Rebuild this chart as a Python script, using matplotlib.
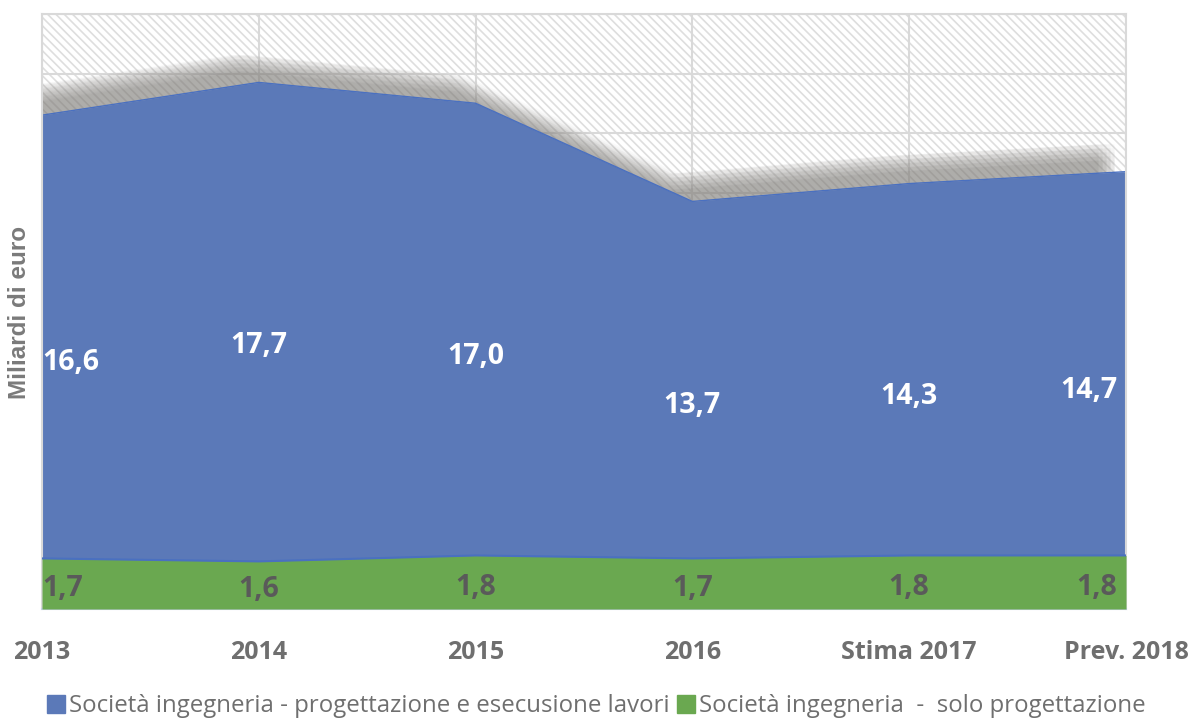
import numpy as np
import matplotlib
matplotlib.use("Agg")
import matplotlib.pyplot as plt
from matplotlib.patches import Rectangle
from matplotlib.lines import Line2D
from matplotlib.transforms import ScaledTranslation

years = ["2013", "2014", "2015", "2016", "Stima 2017", "Prev. 2018"]
progettazione_esecuzione = [16.6, 17.7, 17.0, 13.7, 14.3, 14.7]
solo_progettazione = [1.7, 1.6, 1.8, 1.7, 1.8, 1.8]
labels_series = ["Società ingegneria - progettazione e esecusione lavori",
                 "Società ingegneria  -  solo progettazione"]

blue = "#5b79b8"
green = "#6aa850"
grey_txt = "#6f6f6f"

fig = plt.figure(figsize=(11.91, 7.18), dpi=100)
ax = fig.add_axes([42/1191, 1-609/718, (1126-42)/1191, (609-14)/718])

x = np.arange(len(years))
ax.set_xlim(0, len(years) - 1)
ax.set_ylim(0, 20)

# hatched plot area background
plt.rcParams["hatch.linewidth"] = 1.2
bg = Rectangle((0, 0), 1, 1, transform=ax.transAxes, facecolor="white",
               edgecolor="#dedede", hatch="\\\\\\\\", lw=0, zorder=0.1)
ax.add_patch(bg)

ax.set_axisbelow(True)
ax.set_yticks(np.arange(0, 21, 2))
ax.set_xticks(x)
ax.grid(True, color="#d9d9d9", lw=1.5)
ax.tick_params(length=0, pad=22)
ax.set_yticklabels([])
ax.set_xticklabels(years, fontfamily="Open Sans", fontweight="bold",
                   fontsize=18, color=grey_txt)
for s in ax.spines.values():
    s.set_color("#d9d9d9")
    s.set_linewidth(1.5)
ax.spines["bottom"].set_color("#c5d0e8")

# soft shadow behind the blue area
for dx in range(-28, -11, 4):
    for dy in range(12, 29, 4):
        tr = ax.transData + ScaledTranslation(dx/100, dy/100, fig.dpi_scale_trans)
        ax.fill_between(x, 0, progettazione_esecuzione, color="#8a8884",
                        alpha=0.04, lw=0, transform=tr, zorder=1)

ax.fill_between(x, 0, progettazione_esecuzione, color=blue, lw=0, zorder=2)
ax.plot(x, progettazione_esecuzione, color="#4a70c0", lw=1, zorder=2.5)
ax.fill_between(x, 0, solo_progettazione, color=green, lw=0, zorder=3)
ax.plot(x, solo_progettazione, color="#4a70c0", lw=1.5, zorder=3.5)

n = len(years)
for i in range(n):
    ha = "left" if i == 0 else ("right" if i == n - 1 else "center")
    xo = x[i] - 0.04 if i == n - 1 else x[i]
    ax.text(xo, progettazione_esecuzione[i] / 2, f"{progettazione_esecuzione[i]:.1f}".replace(".", ","),
            ha=ha, va="center", color="white", fontsize=20.5,
            fontfamily="Open Sans", fontweight="bold", zorder=5)
    ax.text(xo, solo_progettazione[i] * 0.4, f"{solo_progettazione[i]:.1f}".replace(".", ","),
            ha=ha, va="center", color="#5a5a5a", fontsize=20.5,
            fontfamily="Open Sans", fontweight="bold", zorder=5)

fig.text(20/1191, 1-312/718, "Miliardi di euro", rotation=90, ha="center", va="center",
         fontsize=17.5, fontfamily="Liberation Sans", fontweight="bold", color="#7a7a7a")

handles = [Line2D([], [], marker="s", ls="", color=blue, markersize=12.5),
           Line2D([], [], marker="s", ls="", color=green, markersize=12.5)]
fig.legend(handles, labels_series, loc="center", bbox_to_anchor=(0.5, 1-706/718),
           ncol=2, frameon=False, handletextpad=0.1, columnspacing=0.2,
           handlelength=0.9, prop={"family": "Open Sans", "size": 17.3},
           labelcolor=grey_txt)

fig.savefig("out.png", dpi=100)
